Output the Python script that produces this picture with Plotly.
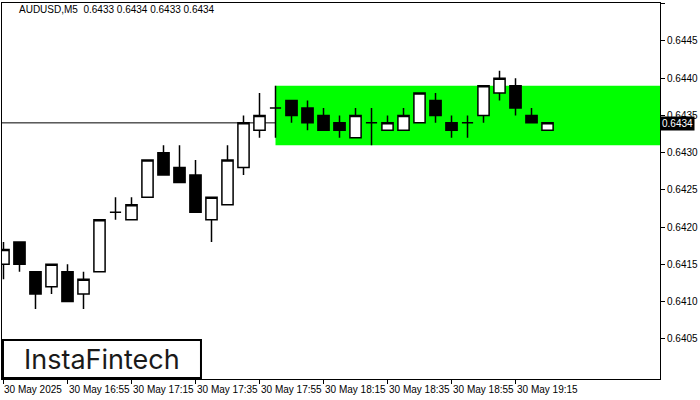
import pandas as pd
import plotly.graph_objects as go

# ---- data (AUDUSD, M5, 30 May 2025) ----
symbol_title = "AUDUSD,M5&nbsp;&nbsp;0.6433 0.6434 0.6433 0.6434"
start_time = "2025-05-30 16:35"
opens = [0.6415, 0.6418, 0.6414, 0.6412, 0.6414, 0.6411, 0.6414, 0.6422, 0.6421, 0.6424,
         0.6430, 0.6428, 0.6427, 0.6421, 0.6423, 0.6428, 0.6433, 0.6436, 0.6437, 0.6436,
         0.6435, 0.6434, 0.6432, 0.6434, 0.6433, 0.6433, 0.6434, 0.6437, 0.6434, 0.6434,
         0.6435, 0.6438, 0.6439, 0.6435, 0.6433]
highs = [0.6418, 0.6418, 0.6414, 0.6415, 0.6415, 0.6414, 0.6421, 0.6424, 0.6424, 0.6429,
         0.6431, 0.6431, 0.6429, 0.6424, 0.6431, 0.6435, 0.6438, 0.6439, 0.6437, 0.6437,
         0.6436, 0.6435, 0.6436, 0.6436, 0.6435, 0.6436, 0.6438, 0.6438, 0.6435, 0.6435,
         0.6439, 0.6441, 0.6440, 0.6436, 0.6434]
lows = [0.6413, 0.6414, 0.6409, 0.6411, 0.6410, 0.6409, 0.6414, 0.6421, 0.6421, 0.6424,
        0.6427, 0.6426, 0.6422, 0.6418, 0.6423, 0.6427, 0.6432, 0.6432, 0.6434, 0.6433,
        0.6433, 0.6432, 0.6432, 0.6431, 0.6433, 0.6433, 0.6434, 0.6434, 0.6432, 0.6432,
        0.6434, 0.6437, 0.6435, 0.6434, 0.6433]
closes = [0.6417, 0.6415, 0.6411, 0.6415, 0.6410, 0.6413, 0.6421, 0.6422, 0.6423, 0.6429,
          0.6427, 0.6426, 0.6422, 0.6424, 0.6429, 0.6434, 0.6435, 0.6436, 0.6435, 0.6434,
          0.6433, 0.6433, 0.6435, 0.6434, 0.6434, 0.6435, 0.6438, 0.6435, 0.6433, 0.6434,
          0.6439, 0.6440, 0.6436, 0.6434, 0.6434]
times = pd.date_range(start_time, periods=len(opens), freq="5min")

x_tick_times = ["2025-05-30 16:35", "2025-05-30 16:55", "2025-05-30 17:15", "2025-05-30 17:35",
                "2025-05-30 17:55", "2025-05-30 18:15", "2025-05-30 18:35", "2025-05-30 18:55",
                "2025-05-30 19:15"]
x_tick_labels = ["30 May 2025", "30 May 16:55", "30 May 17:15", "30 May 17:35", "30 May 17:55",
                 "30 May 18:15", "30 May 18:35", "30 May 18:55", "30 May 19:15"]
y_tick_vals = [0.6405, 0.6410, 0.6415, 0.6420, 0.6425, 0.6430, 0.6435, 0.6440, 0.6445, 0.6450]

last_price = 0.6434
rect_start = "2025-05-30 18:00"
rect_top = 0.6439
rect_bottom = 0.6431
x_range = ["2025-05-30 16:34:32", "2025-05-30 20:00:09"]
y_range = [0.63996, 0.64501]
logo_text = "InstaFintech"

FONT = "Liberation Sans"

fig = go.Figure()
fig.add_trace(go.Candlestick(
    x=times, open=opens, high=highs, low=lows, close=closes,
    increasing=dict(fillcolor="white", line=dict(color="black", width=1.5)),
    decreasing=dict(fillcolor="black", line=dict(color="black", width=1.5)),
    whiskerwidth=0, showlegend=False, hoverinfo="skip",
))

# green rectangle pattern
fig.add_shape(type="rect", xref="x", yref="y", x0=rect_start, x1=x_range[1],
              y0=rect_bottom, y1=rect_top, fillcolor="#00ff00", line=dict(width=0),
              layer="below")
# last price line
fig.add_shape(type="line", xref="paper", yref="y", x0=0, x1=1, y0=last_price, y1=last_price,
              line=dict(color="black", width=1), layer="below")

# x tick labels (left aligned after tick like MT4)
for t, lab in zip(x_tick_times, x_tick_labels):
    fig.add_annotation(x=t, xref="x", y=0, yref="paper", yanchor="top", yshift=-3,
                       xanchor="left", xshift=-1, text=lab, showarrow=False,
                       font=dict(family=FONT, size=10, color="black"))

# price label box
fig.add_annotation(x=1, xref="paper", y=last_price, yref="y", xanchor="left", xshift=0,
                   yshift=-1, text=f"{last_price:.4f}", showarrow=False, bgcolor="black",
                   borderpad=1, font=dict(family=FONT, size=10, color="white"))

# title
fig.add_annotation(x=0, xref="paper", y=1, yref="paper", xanchor="left", yanchor="top",
                   xshift=15, yshift=1, text=symbol_title, showarrow=False,
                   font=dict(family=FONT, size=10, color="black"))

# logo
fig.add_shape(type="rect", xref="paper", yref="paper", x0=0.0015, x1=0.3024, y0=0.0027, y1=0.1036,
              fillcolor="white", line=dict(color="black", width=2), layer="above")
fig.add_annotation(x=0.152, xref="paper", y=0.053, yref="paper", xanchor="center",
                   yanchor="middle", text=logo_text, showarrow=False,
                   font=dict(family="Inter", size=27, color="#1a1a1a", weight=400))

fig.update_layout(
    width=700, height=400,
    margin=dict(l=2, r=40, t=3, b=21, autoexpand=False),
    paper_bgcolor="white", plot_bgcolor="white",
    boxgap=0.3, boxgroupgap=0,
    xaxis=dict(type="date", range=x_range, rangeslider=dict(visible=False),
               showgrid=False, zeroline=False, showline=True, mirror=True, automargin=False,
               linecolor="black", linewidth=1, ticks="outside", ticklen=4,
               tickcolor="black", tickvals=x_tick_times, showticklabels=False),
    yaxis=dict(side="right", range=y_range, showgrid=False, zeroline=False, automargin=False,
               showline=True, mirror=True, linecolor="black", linewidth=1,
               ticks="outside", ticklen=4, tickcolor="black", tickvals=y_tick_vals,
               tickformat=".4f", tickfont=dict(family=FONT, size=10, color="black")),
)

fig.write_html("out.html", config={"displayModeBar": False},
               post_script="document.body.style.margin='0';document.body.style.overflow='hidden';")
